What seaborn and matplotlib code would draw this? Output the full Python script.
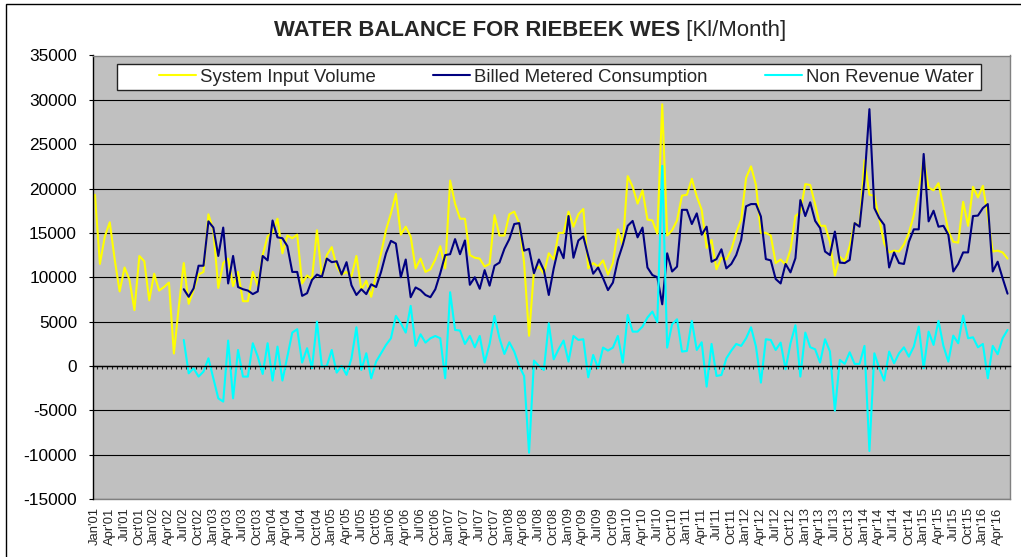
import numpy as np
import pandas as pd
import matplotlib
matplotlib.use("Agg")
import matplotlib.pyplot as plt
from matplotlib.patches import Rectangle
from matplotlib.ticker import MultipleLocator, FixedLocator, NullFormatter
import seaborn as sns

# ---------------- data ----------------
months = pd.date_range("2001-01-01", periods=186, freq="MS")
tick_labels = [m.strftime("%b'%y") for m in months[::3]]

system_input_volume = [
    19300, 11500, 14600, 16200, 12000, 8400, 11100, 9700, 6300, 12400, 11800, 7400,
    10400, 8500, 8900, 9400, 1400, 6700, 11600, 7000, 8600, 10300, 10600, 17100,
    15300, 8800, 11600, 12100, 9000, 10600, 7300, 7300, 10600, 9000, 12500, 14600,
    15100, 16600, 12700, 14700, 14400, 14800, 9300, 10200, 9800, 15300, 10100, 12500,
    13400, 11200, 10300, 10600, 10100, 12400, 8600, 9600, 7800, 10300, 12700, 15300,
    17200, 19400, 14800, 15700, 14600, 11000, 12100, 10600, 10900, 12000, 13500, 11000,
    20900, 18300, 16600, 16600, 12500, 12200, 12100, 11200, 11500, 17000, 14700, 14700,
    17100, 17400, 16100, 11600, 3400, 10800, 11200, 10400, 12700, 12000, 15000, 15000,
    17400, 15700, 17100, 17700, 11000, 11600, 11200, 11900, 10300, 11600, 15400, 13600,
    21400, 20200, 18300, 19800, 16500, 16400, 14900, 29500, 14700, 15300, 16400, 19200,
    19300, 21100, 19100, 17600, 13300, 14200, 10900, 12200, 12000, 13100, 15000, 16500,
    21200, 22500, 20400, 15000, 15000, 14700, 11600, 12000, 11400, 13100, 16900, 17300,
    20500, 20400, 18200, 15800, 15800, 14000, 10200, 12300, 11800, 13500, 16100, 15800,
    23200, 19300, 19200, 16500, 13800, 12800, 13000, 12900, 13700, 15000, 17000, 19800,
    23300, 20100, 19800, 20600, 18000, 15200, 14000, 13900, 18500, 15800, 20200, 19000,
    20300, 16900, 12900, 13000, 12800, 12100,
]

# Billed Metered Consumption and Non Revenue Water start in Jul'02
series_start = 18
billed_metered_consumption = [
    8650, 7800, 8750, 11300, 11300, 16300,
    15600, 12400, 15600, 9300, 12400, 8900, 8650, 8500, 8100, 8400, 12400, 11900,
    16400, 14500, 14400, 13500, 10600, 10600, 7900, 8200, 9700, 10300, 10050, 12100,
    11700, 11800, 10300, 11700, 9100, 8000, 8650, 8100, 9200, 8900, 10600, 12700,
    14100, 13800, 10000, 12000, 7750, 8850, 8550, 8000, 7750, 8650, 10450, 12500,
    12600, 14300, 12600, 14150, 9150, 10000, 8700, 10800, 9050, 11300, 11650, 13200,
    14300, 16000, 16100, 13000, 13200, 10450, 12000, 10800, 8000, 11000, 13400, 12150,
    16900, 12200, 14150, 14600, 12400, 10400, 11100, 9900, 8550, 9400, 11950, 13650,
    15800, 16350, 14500, 15600, 11100, 10250, 10000, 6950, 12700, 10650, 11200, 17600,
    17600, 16000, 17200, 14800, 15700, 11750, 12050, 13150, 11000, 11500, 12500, 14200,
    18000, 18250, 18250, 16850, 12050, 11900, 9800, 9300, 11500, 10550, 12150, 18700,
    16900, 18450, 16350, 15550, 12900, 12500, 15150, 11650, 11600, 11950, 16100, 15700,
    21000, 28950, 17800, 16650, 15900, 11100, 12800, 11600, 11500, 14000, 15400, 15400,
    23900, 16300, 17500, 15700, 15800, 14800, 10650, 11500, 12800, 12800, 16900, 16950,
    17800, 18250, 10650, 11750, 9900, 8150,
]
non_revenue_water = [
    2930, -830, -260, -1200, -640, 860,
    -1390, -3650, -4020, 2860, -3650, 1800, -1200, -1200, 2560, 1050, -900, 2560,
    -1650, 2180, -1650, 1050, 3760, 4140, 380, 2000, -260, 5000, -75, 0,
    1800, -750, 0, -1000, 860, 4360, -450, 1430, -1390, 490, 1430, 2370,
    3120, 5640, 4810, 3760, 6770, 2260, 3570, 2630, 3120, 3380, 3120, -1390,
    8310, 4060, 3990, 2480, 3380, 2100, 3380, 380, 2480, 5640, 3120, 1350,
    2670, 1620, 0, -1130, -9780, 600, 0, -450, 4810, 750, 1900, 2860,
    490, 3380, 2930, 3010, -1280, 1240, -260, 2070, 1730, 2070, 3380, 380,
    5750, 3870, 3870, 4440, 5450, 6130, 4930, 22560, 2070, 4700, 5260, 1620,
    1690, 5080, 1800, 2670, -2330, 2480, -1130, -1020, 860, 1730, 2480, 2260,
    3120, 4360, 2180, -1880, 3010, 2930, 1800, 2630, -375, 2550, 4590, -1200,
    3760, 2110, 1880, 380, 3010, 1620, -5040, 680, 230, 1540, 230, 230,
    2260, -9590, 1430, -260, -1650, 1620, 300, 1430, 2100, 1050, 2180, 4440,
    -260, 3870, 2370, 5080, 2260, 490, 3420, 2560, 5680, 3120, 3230, 2100,
    2480, -1390, 2260, 1320, 3120, 4060,
]

series_names = ["System Input Volume", "Billed Metered Consumption", "Non Revenue Water"]
series_colors = ["#FFFF00", "#000080", "#00FFFF"]

# ---------------- figure ----------------
sns.set_style("white")
plt.rcParams["font.family"] = ["Liberation Sans", "DejaVu Sans"]
plt.rcParams["axes.unicode_minus"] = False

idx = np.arange(len(months))
pad = [np.nan] * series_start
df = pd.DataFrame({
    "idx": idx,
    series_names[0]: system_input_volume,
    series_names[1]: pad + billed_metered_consumption,
    series_names[2]: pad + non_revenue_water,
})
long = df.melt(id_vars="idx", var_name="series", value_name="value").dropna()

W, H = 1021, 557
fig = plt.figure(figsize=(W / 100, H / 100), dpi=100)
fig.patch.set_facecolor("white")
L, R, T, B = 92.5, 1010, 55.5, 499
ax = fig.add_axes([L / W, 1 - B / H, (R - L) / W, (B - T) / H])
ax.set_facecolor("#C0C0C0")

sns.lineplot(data=long, x="idx", y="value", hue="series", hue_order=series_names,
             palette=dict(zip(series_names, series_colors)), ax=ax,
             linewidth=1.5, estimator=None, legend=False)

ax.set_xlim(-0.5, len(months) - 0.5)
ax.set_ylim(-15000, 35000)
ax.yaxis.set_major_locator(MultipleLocator(5000))
ax.yaxis.grid(True, color="#000000", linewidth=0.8)
ax.set_axisbelow(True)
ax.set_xlabel("")
ax.set_ylabel("")
ax.tick_params(axis="y", direction="out", length=3.2, width=0.8, pad=8,
               labelsize=12.4, colors="black", left=True)

# category axis line at zero with a tick at each category boundary
ax.spines["bottom"].set_position(("data", 0))
ax.spines["bottom"].set_color("black")
ax.spines["bottom"].set_linewidth(1)
ax.xaxis.set_major_locator(FixedLocator(np.arange(-0.5, len(months), 1)))
ax.xaxis.set_major_formatter(NullFormatter())
ax.tick_params(axis="x", direction="out", length=2.5, width=0.8, bottom=True)

for s in ["top", "right"]:
    ax.spines[s].set_color("#808080")
    ax.spines[s].set_linewidth(1)
ax.spines["left"].set_color("black")
ax.spines["left"].set_linewidth(1)

# month labels at bottom of plot area
sec = ax.secondary_xaxis(0)
sec.set_xticks(idx[::3])
sec.set_xticklabels(tick_labels, rotation=90, fontsize=9.4)
sec.tick_params(length=0, pad=6)
sec.spines["bottom"].set_color("#808080")
sec.spines["bottom"].set_linewidth(1)

# legend box
lx0, lx1, ly0, ly1 = 117, 981, 64, 90
ax.add_patch(Rectangle(((lx0 - L) / (R - L), (B - ly1) / (B - T)),
                       (lx1 - lx0) / (R - L), (ly1 - ly0) / (B - T),
                       transform=ax.transAxes, facecolor="white",
                       edgecolor="#222222", linewidth=1, zorder=4))
handles = [plt.Line2D([], [], color=c, lw=1.5) for c in series_colors]
cx0, cx1 = 159, 974
leg = ax.legend(handles, series_names, ncol=3, mode="expand",
                bbox_to_anchor=((cx0 - L) / (R - L), (B - ly1) / (B - T),
                                (cx1 - cx0) / (R - L), (ly1 - ly0) / (B - T)),
                loc="center", frameon=False, fontsize=13.4, handlelength=2.0,
                handletextpad=0.22, borderpad=0, borderaxespad=0)
leg.set_zorder(5)

# title: bold part + regular part
fig.canvas.draw()
r = fig.canvas.get_renderer()
ty = 1 - 30.5 / H
t1 = fig.text(0, ty, "WATER BALANCE FOR RIEBEEK WES", fontsize=15.9,
              fontweight="bold", ha="left", va="center")
t2 = fig.text(0, ty, " [Kl/Month]", fontsize=15.9, ha="left", va="center")
w1 = t1.get_window_extent(r).width
w2 = t2.get_window_extent(r).width
x0 = (530 - (w1 + w2) / 2)
t1.set_x(x0 / W)
t2.set_x((x0 + w1) / W)

# outer chart border (left and top edges visible)
fig.add_artist(Rectangle((6 / W, -0.2), 1.5, 1 - 4 / H + 0.2,
                         transform=fig.transFigure, fill=False,
                         edgecolor="black", linewidth=1))

fig.savefig("out.png", dpi=100, facecolor="white")
